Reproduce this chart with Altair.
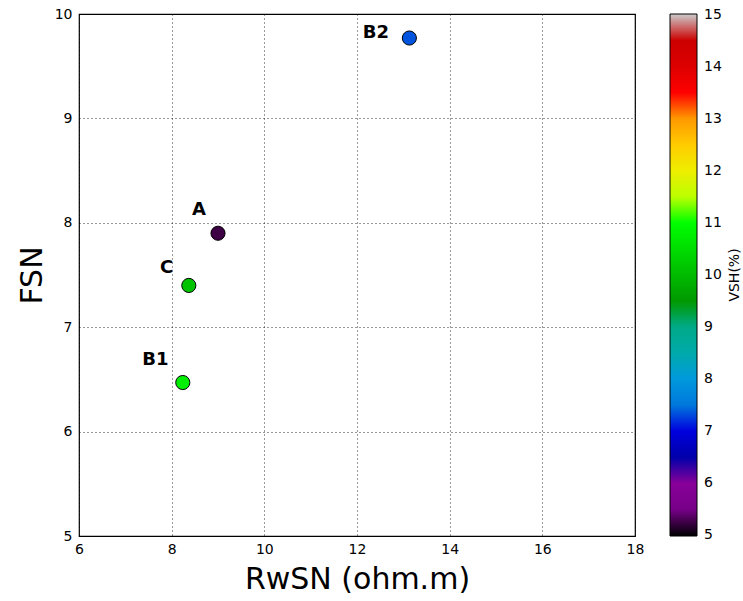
import altair as alt
import pandas as pd

# Data
names = ["A", "B1", "B2", "C"]
rwsn = [9.00, 8.24, 13.13, 8.37]
fsn = [7.90, 6.47, 9.77, 7.40]
vsh = [5.25, 10.75, 7.35, 10.12]

# label anchor positions (data units)
label_x = [8.59, 7.65, 12.41, 7.89]
label_y = [8.075, 6.638, 9.77, 7.519]

# nipy_spectral colormap stops over VSH 5..15 (end stops nudged a hair outward
# so the colorbar end labels stay centred on 5 and 15)
cmap_domain = [4.99, 5.5, 6.0, 6.5, 7.0, 7.5, 8.0, 8.5, 9.0, 9.5, 10.0,
               10.5, 11.0, 11.5, 12.0, 12.5, 13.0, 13.5, 14.0, 14.5, 15.01]
cmap_range = ["#000000", "#770088", "#880099", "#0000aa", "#0000dd", "#0077dd",
              "#0099dd", "#00aaaa", "#00aa88", "#009900", "#00bb00", "#00dd00",
              "#00ff00", "#bbff00", "#eeee00", "#ffcc00", "#ff9900", "#ff0000",
              "#dd0000", "#cc0000", "#cccccc"]
cbar_ticks = [5, 6, 7, 8, 9, 10, 11, 12, 13, 14, 15]
x_ticks = [6, 8, 10, 12, 14, 16, 18]
y_ticks = [5, 6, 7, 8, 9, 10]

df = pd.DataFrame({"name": names, "RwSN": rwsn, "FSN": fsn, "VSH": vsh,
                   "lx": label_x, "ly": label_y})

FONT = "DejaVu Sans"

xscale = alt.Scale(domain=[6, 18], nice=False, zero=False)
yscale = alt.Scale(domain=[5, 10], nice=False, zero=False)

xaxis = alt.Axis(values=x_ticks, format="d", title="RwSN (ohm.m)", titleFontSize=30,
                 titleFontWeight="normal", labelFontSize=14, labelPadding=6,
                 labelFlush=False,
                 ticks=False, domain=False, grid=True, gridColor="black",
                 gridDash=[1, 3], gridOpacity=0.8, titleY=52,
                 titleBaseline="alphabetic", labelColor="black", titleColor="black")
yaxis = alt.Axis(values=y_ticks, format="d", title="FSN", titleFontSize=30,
                 titleFontWeight="normal", labelFontSize=14, labelPadding=7,
                 labelFlush=False,
                 ticks=False, domain=False, grid=True, gridColor="black",
                 gridDash=[1, 3], gridOpacity=0.8, titleAngle=270,
                 titleX=-38, titleY=261, titleAlign="center",
                 titleBaseline="alphabetic", labelColor="black", titleColor="black")

points = alt.Chart(df).mark_circle(size=200, opacity=1, stroke="black",
                                   strokeWidth=1).encode(
    x=alt.X("RwSN:Q", scale=xscale, axis=xaxis),
    y=alt.Y("FSN:Q", scale=yscale, axis=yaxis),
    color=alt.Color("VSH:Q",
                    scale=alt.Scale(domain=cmap_domain, range=cmap_range,
                                    interpolate="rgb"),
                    legend=alt.Legend(title=None, orient="right", offset=35,
                                      direction="vertical",
                                      gradientLength=522, gradientThickness=27,
                                      gradientStrokeColor="black",
                                      gradientStrokeWidth=1,
                                      values=cbar_ticks, labelFontSize=14,
                                      labelOffset=7,
                                      labelOverlap=False, labelColor="black")),
)

labels = alt.Chart(df).mark_text(font=FONT, fontSize=18, fontWeight="bold",
                                 color="black", align="center",
                                 baseline="alphabetic").encode(
    x=alt.X("lx:Q", scale=xscale),
    y=alt.Y("ly:Q", scale=yscale),
    text="name:N",
)

chart = alt.layer(points, labels).properties(
    width=556, height=522,
    title=alt.TitleParams(text="VSH(%)", orient="right", angle=270,
                          anchor="middle", baseline="top", fontSize=14,
                          fontWeight="normal", font=FONT, color="black",
                          offset=-8),
    autosize=alt.AutoSizeParams(type="none"),
    padding={"left": 79, "top": 14, "right": 108, "bottom": 65},
).configure(font=FONT).configure_view(stroke="black", strokeWidth=1.2)

chart.save("out.html", embed_options={"renderer": "svg", "actions": False})
